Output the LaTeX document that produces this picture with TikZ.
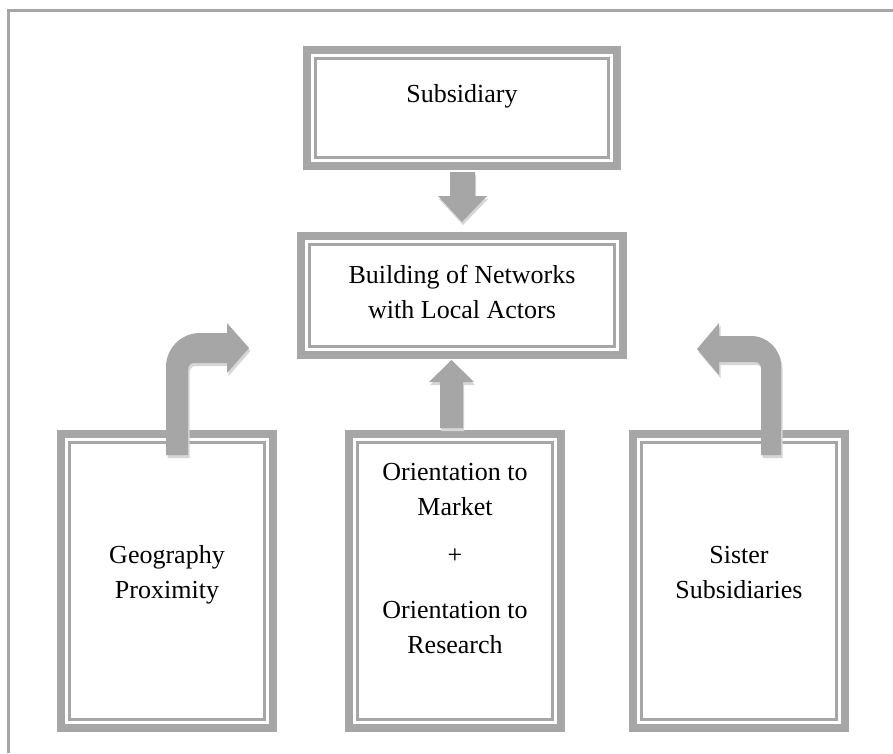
\documentclass[tikz,border=0pt]{standalone}
\usepackage{fontspec}
\setmainfont{Liberation Serif}
\begin{document}
\begin{tikzpicture}[x=1pt,y=1pt,
  every node/.style={font=\fontsize{26}{34}\selectfont, text=black},
  boxframe/.style={draw=framegray, line width=8pt, inner sep=0pt, outer sep=0pt, rectangle},
  innerline/.style={draw=framegray, line width=3pt},
  arrowfill/.style={fill=framegray, draw=none},
  arrowshade/.style={fill=shadegray, draw=none},
  label/.style={inner sep=0pt, anchor=base, align=center}
]
\definecolor{framegray}{HTML}{A6A6A6}
\definecolor{shadegray}{HTML}{D6D6D6}
\useasboundingbox (0,0) rectangle (893,-753);
\fill[white] (0,0) rectangle (893,-753);

% page frame (top and left edges)
\draw[framegray, line width=3pt] (8,-753) -- (8,-10) -- (893,-10);

% boxes: outer width/height minus the 8pt frame line
\node[boxframe, minimum width=310pt, minimum height=116pt] (sub) at (462,-108) {};
\node[boxframe, minimum width=322pt, minimum height=119pt] (net) at (462,-295.5) {};
\node[boxframe, minimum width=212pt, minimum height=294pt] (geo) at (167,-581) {};
\node[boxframe, minimum width=212pt, minimum height=294pt] (ori) at (455,-581) {};
\node[boxframe, minimum width=212pt, minimum height=294pt] (sis) at (739,-581) {};
% thin inner line of each double frame (anchors sit on the middle of the thick line)
\foreach \n in {sub,net,geo,ori,sis}
  \draw[innerline] ([xshift=8.5pt,yshift=-8.5pt]\n.north west) rectangle ([xshift=-8.5pt,yshift=8.5pt]\n.south east);

% texts
\node[label] (tsub) at (462,-102) {Subsidiary};
\node[label] (tnet1) at (462,-283) {Building of Networks};
\node[label] (tnet2) at (462,-318) {with Local Actors};
\node[label] (tgeo1) at (167,-563) {Geography};
\node[label] (tgeo2) at (167,-598) {Proximity};
\node[label] (tori1) at (455,-480) {Orientation to};
\node[label] (tori2) at (455,-515) {Market};
\node[label] (tplus) at (455,-563) {+};
\node[label] (tori3) at (455,-618) {Orientation to};
\node[label] (tori4) at (455,-653) {Research};
\node[label] (tsis1) at (739,-563) {Sister};
\node[label] (tsis2) at (739,-598) {Subsidiaries};

% down arrow: Subsidiary -> network box
\foreach \s/\dx/\dy in {arrowshade/1/-3, arrowfill/0/0}
  \fill[\s, shift={(\dx,\dy)}] (450,-172) -- (475,-172) -- (475,-196) -- (487,-196)
     -- (462,-222) -- (438,-196) -- (450,-196) -- cycle;

% up arrow: orientation box -> network box
\foreach \s/\dx/\dy in {arrowshade/1/-3, arrowfill/0/0}
  \fill[\s, shift={(\dx,\dy)}] (440,-428) -- (463,-428) -- (463,-382) -- (474,-382)
     -- (451.5,-360) -- (429,-382) -- (440,-382) -- cycle;

% bent arrow rising from the geography box
\foreach \s/\dx/\dy in {arrowshade/1.5/-3, arrowfill/0/0}
  \fill[\s, shift={(\dx,\dy)}] (166,-455) -- (166,-367) arc[start angle=180, end angle=90, radius=34]
     -- (227,-333) -- (227,-323) -- (249,-348) -- (227,-373) -- (227,-363)
     -- (194,-363) arc[start angle=90, end angle=180, radius=6] -- (188,-455) -- cycle;

% bent arrow rising from the sister subsidiaries box
\foreach \s/\dx/\dy in {arrowshade/1.5/-3, arrowfill/0/0}
  \fill[\s, shift={(\dx,\dy)}] (781,-455) -- (781,-366) arc[start angle=0, end angle=90, radius=30]
     -- (719,-336) -- (719,-323) -- (697,-349) -- (719,-375) -- (719,-362)
     -- (755,-362) arc[start angle=90, end angle=0, radius=6] -- (761,-455) -- cycle;
\end{tikzpicture}
\end{document}
